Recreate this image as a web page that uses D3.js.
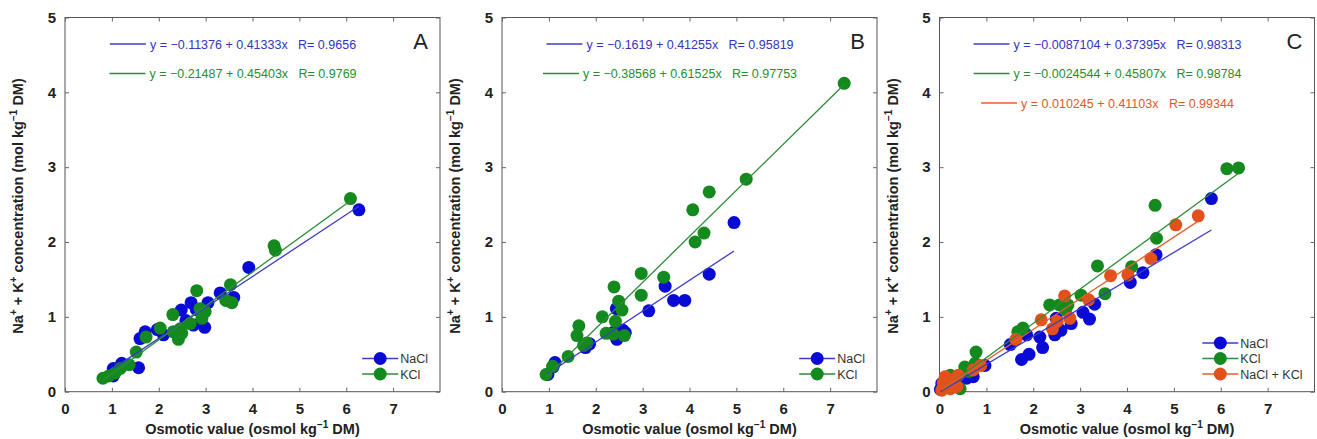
<!DOCTYPE html>
<html>
<head>
<meta charset="utf-8">
<script src="https://cdn.jsdelivr.net/npm/d3@7/dist/d3.min.js"></script>
<style>
  body { margin: 0; background: #fff; }
  svg { display: block; font-family: "Liberation Sans", Arial, Helvetica, sans-serif; }
</style>
</head>
<body>
<svg id="chart" width="1317" height="439"></svg>
<script>
// ---------------- DATA ----------------
const xTicks = [0, 1, 2, 3, 4, 5, 6, 7];
const yTicks = [0, 1, 2, 3, 4, 5];
const panelLabels = ["A", "B", "C"];
const seriesNames = ["NaCl", "KCl", "NaCl + KCl"];

// Panel A
const aNaCl = [[6.27,2.43],[3.92,1.66],[3.31,1.32],[3.60,1.26],[3.05,1.19],[2.69,1.19],[2.48,1.09],[2.80,1.10],
  [2.58,0.95],[2.74,0.89],[2.98,0.86],[2.10,0.76],[1.97,0.83],[1.71,0.80],[1.60,0.71],[1.57,0.32],
  [1.21,0.38],[1.03,0.31],[1.03,0.21]];
const aKCl = [[6.09,2.58],[4.46,1.95],[4.49,1.89],[2.81,1.35],[3.53,1.43],[3.43,1.22],[3.56,1.19],[2.88,1.11],
  [2.99,1.07],[2.92,0.98],[2.30,1.03],[2.67,0.91],[2.46,0.84],[2.31,0.80],[2.42,0.70],[2.49,0.78],
  [2.03,0.85],[1.73,0.73],[1.52,0.53],[1.37,0.36],[1.18,0.31],[1.07,0.25],[0.93,0.21],[0.81,0.18]];

// Panel B
const bNaCl = [[4.95,2.26],[4.42,1.57],[3.48,1.41],[3.66,1.22],[3.90,1.22],[3.13,1.08],[2.44,1.11],[2.58,0.82],
  [2.37,0.79],[2.45,0.70],[2.63,0.79],[1.87,0.64],[1.78,0.59],[1.13,0.39],[1.09,0.33],[0.98,0.23]];
const bKCl = [[7.30,4.12],[5.21,2.84],[4.42,2.67],[4.07,2.43],[4.31,2.12],[4.12,2.00],[2.97,1.58],[3.45,1.53],
  [2.97,1.29],[2.39,1.40],[2.49,1.21],[2.56,1.09],[2.42,0.94],[2.14,1.00],[1.64,0.88],[1.60,0.75],
  [2.22,0.78],[2.37,0.77],[2.61,0.75],[1.81,0.65],[1.74,0.62],[1.41,0.47],[1.08,0.34],[0.94,0.23]];

// Panel C
const cNaCl = [[5.80,2.58],[4.62,1.83],[4.34,1.59],[4.07,1.46],[3.31,1.17],[3.20,0.97],[3.06,1.06],[2.81,0.91],
  [2.59,0.82],[2.49,0.98],[2.46,0.76],[2.14,0.73],[2.20,0.59],[1.86,0.76],[1.51,0.63],[1.91,0.50],
  [1.75,0.43],[0.97,0.35],[0.72,0.20],[0.58,0.18],[0.40,0.12],[0.12,0.08],[0.05,0.11],[0.02,0.03]];
const cKCl = [[6.13,2.98],[6.38,2.99],[4.60,2.49],[4.63,2.05],[4.10,1.67],[3.37,1.68],[3.53,1.31],[3.02,1.29],
  [2.35,1.16],[2.56,1.16],[2.74,1.16],[2.69,1.09],[1.78,0.85],[1.67,0.80],[0.78,0.53],[0.76,0.38],
  [0.54,0.33],[0.62,0.27],[0.44,0.04],[0.23,0.22],[0.08,0.07],[0.15,0.15]];
const cMix = [[5.52,2.35],[5.04,2.23],[4.51,1.78],[4.02,1.56],[3.65,1.55],[3.18,1.23],[2.67,1.28],[2.78,0.98],
  [2.51,0.94],[2.41,0.84],[2.17,0.96],[1.63,0.70],[0.88,0.35],[0.72,0.29],[0.40,0.22],[0.30,0.16],
  [0.12,0.20],[0.16,0.09],[0.05,0.02],[0.37,0.07],[0.23,0.04],[0.20,0.13],[0.08,0.12]];

// Fitted lines: [intercept, slope, R]
const fitA = [[-0.11376, 0.41333, "0.9656"], [-0.21487, 0.45403, "0.9769"]];
const fitB = [[-0.1619, 0.41255, "0.95819"], [-0.38568, 0.61525, "0.97753"]];
const fitC = [[-0.0087104, 0.37395, "0.98313"], [-0.0024544, 0.45807, "0.98784"], [0.010245, 0.41103, "0.99344"]];
const interceptText = {A: ["\u22120.11376", "\u22120.21487"], B: ["\u22120.1619", "\u22120.38568"],
  C: ["\u22120.0087104", "\u22120.0024544", "0.010245"]};
const slopeText = {A: ["0.41333", "0.45403"], B: ["0.41255", "0.61525"], C: ["0.37395", "0.45807", "0.41103"]};

// ---------------- STYLE ----------------
const markerColors = ["#0a0ad6", "#148a1e", "#e2511c"];
const lineColors = ["#3c3cc4", "#2c8c38", "#e2602e"];
const textColors = ["#3434c0", "#1f8f2f", "#e0572d"];

const panels = [
  {label: "A", x0: 65, series: [aNaCl, aKCl], fits: fitA},
  {label: "B", x0: 502, series: [bNaCl, bKCl], fits: fitB},
  {label: "C", x0: 939.5, series: [cNaCl, cKCl, cMix], fits: fitC}
];

const svg = d3.select("#chart");
const plotW = 375, plotTop = 17.5, plotBottom = 391.7;

panels.forEach((p, pi) => {
  const x = d3.scaleLinear().domain([0, 8]).range([p.x0, p.x0 + plotW]);
  const y = d3.scaleLinear().domain([0, 5]).range([plotBottom, plotTop]);
  const g = svg.append("g");

  // box
  g.append("rect").attr("x", p.x0).attr("y", plotTop).attr("width", plotW).attr("height", plotBottom - plotTop)
    .attr("fill", "#fff").attr("stroke", "#555").attr("stroke-width", 1);

  // axes (inward ticks)
  const xAxis = g.append("g").attr("transform", `translate(0,${plotBottom})`)
    .call(d3.axisBottom(x).tickValues(xTicks).tickSize(-4).tickPadding(12).tickFormat(d3.format("d")));
  const xTop = g.append("g").attr("transform", `translate(0,${plotTop})`)
    .call(d3.axisTop(x).tickValues(xTicks).tickSize(-4).tickFormat(""));
  const yAxis = g.append("g").attr("transform", `translate(${p.x0},0)`)
    .call(d3.axisLeft(y).tickValues(yTicks).tickSize(-4).tickPadding(9).tickFormat(d3.format("d")));
  const yRight = g.append("g").attr("transform", `translate(${p.x0 + plotW},0)`)
    .call(d3.axisRight(y).tickValues(yTicks).tickSize(-4).tickFormat(""));
  [xAxis, xTop, yAxis, yRight].forEach(a => {
    a.select(".domain").remove();
    a.selectAll(".tick line").attr("stroke", "#666");
  });
  [xAxis, yAxis].forEach(a => a.selectAll(".tick text")
    .attr("font-size", 15).attr("font-weight", "bold").attr("fill", "#222")
    .attr("font-family", "Liberation Sans, Arial, sans-serif"));

  // points
  p.series.forEach((s, si) => {
    g.append("g").selectAll("circle").data(s).join("circle")
      .attr("cx", d => x(d[0])).attr("cy", d => y(d[1])).attr("r", 6.5)
      .attr("fill", markerColors[si]);
  });
  // fit lines across each series' x-extent
  p.series.forEach((s, si) => {
    const [b0, b1] = p.fits[si];
    const ext = d3.extent(s, d => d[0]);
    g.append("line")
      .attr("x1", x(ext[0])).attr("y1", y(b0 + b1 * ext[0]))
      .attr("x2", x(ext[1])).attr("y2", y(b0 + b1 * ext[1]))
      .attr("stroke", lineColors[si]).attr("stroke-width", 1.3);
  });

  // equations legend (top, centered)
  const eqCenter = p.x0 + 168;
  p.fits.forEach((f, fi) => {
    const yy = 44 + fi * 29.5;
    const eg = g.append("g");
    const t = eg.append("text").attr("y", yy + 4.5).attr("font-size", 12.5).attr("fill", textColors[fi])
      .attr("xml:space", "preserve").style("white-space", "pre")
      .text(`y = ${interceptText[p.label][fi]} + ${slopeText[p.label][fi]}x   R= ${f[2]}`);
    const tw = t.node().getComputedTextLength();
    const total = 36 + 4 + tw;
    const sx = eqCenter - total / 2;
    eg.append("line").attr("x1", sx).attr("x2", sx + 36).attr("y1", yy).attr("y2", yy)
      .attr("stroke", lineColors[fi]).attr("stroke-width", 1.3);
    t.attr("x", sx + 40);
  });

  // panel letter
  g.append("text").attr("x", p.x0 + plotW - 12).attr("y", 49).attr("text-anchor", "end")
    .attr("font-size", 22).attr("fill", "#222").text(p.label);

  // bottom-right legend
  const n = p.series.length;
  const lg = g.append("g");
  const texts = [];
  for (let i = 0; i < n; i++) {
    const yy = 374 - (n - 1 - i) * 15.5;
    texts.push(lg.append("text").attr("y", yy + 4.5).attr("font-size", 12.5).attr("fill", "#333")
      .text(seriesNames[i]));
  }
  const maxW = d3.max(texts, t => t.node().getComputedTextLength());
  const textX = p.x0 + plotW - 12 - maxW;
  for (let i = 0; i < n; i++) {
    const yy = 374 - (n - 1 - i) * 15.5;
    lg.append("line").attr("x1", textX - 38).attr("x2", textX - 2).attr("y1", yy).attr("y2", yy)
      .attr("stroke", lineColors[i]).attr("stroke-width", 1.3);
    lg.append("circle").attr("cx", textX - 20).attr("cy", yy).attr("r", 6.5).attr("fill", markerColors[i]);
    texts[i].attr("x", textX);
  }

  // axis titles
  const xt = g.append("text").attr("x", p.x0 + plotW / 2).attr("y", 434).attr("text-anchor", "middle")
    .attr("font-size", 14.5).attr("font-weight", "bold").attr("fill", "#222");
  xt.append("tspan").text("Osmotic value (osmol kg");
  xt.append("tspan").attr("dy", -6).attr("font-size", 10).text("\u22121");
  xt.append("tspan").attr("dy", 6).text(" DM)");

  const ytx = p.x0 - 42, yty = 206;
  const yt = g.append("text").attr("transform", `translate(${ytx},${yty}) rotate(-90)`)
    .attr("text-anchor", "middle").attr("font-size", 14.5).attr("font-weight", "bold").attr("fill", "#222");
  yt.append("tspan").text("Na");
  yt.append("tspan").attr("dy", -6).attr("font-size", 10).text("+");
  yt.append("tspan").attr("dy", 6).text(" + K");
  yt.append("tspan").attr("dy", -6).attr("font-size", 10).text("+");
  yt.append("tspan").attr("dy", 6).text(" concentration (mol kg");
  yt.append("tspan").attr("dy", -6).attr("font-size", 10).text("\u22121");
  yt.append("tspan").attr("dy", 6).text(" DM)");
});
</script>
</body>
</html>
